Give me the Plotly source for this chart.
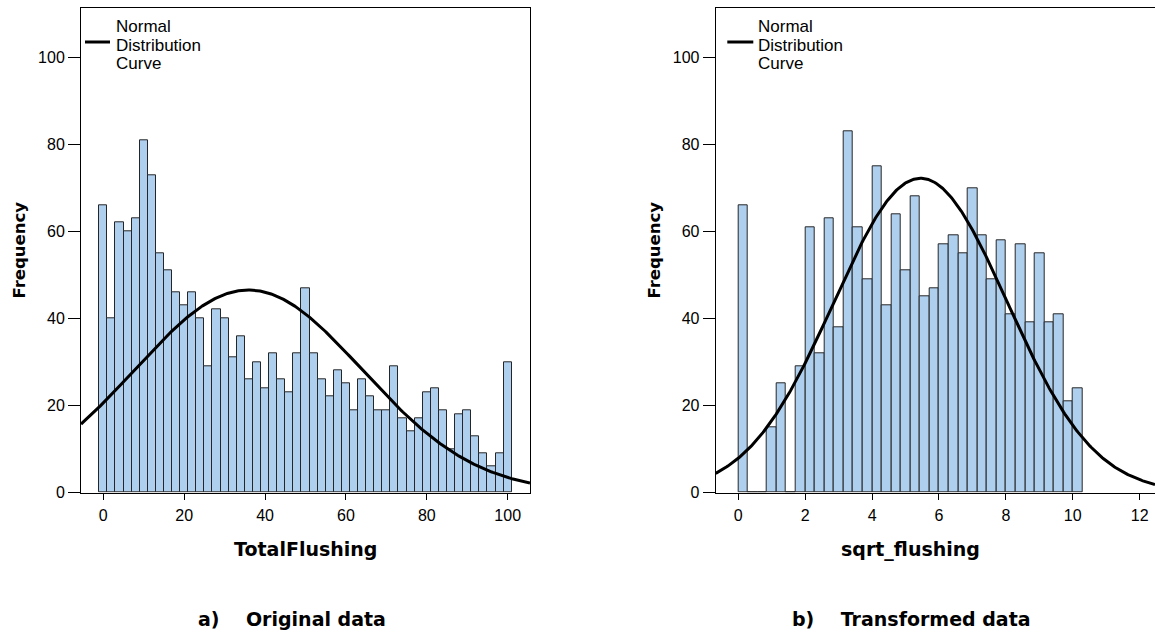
import numpy as np
import plotly.graph_objects as go

W, H = 1155, 641

# ---------------- data ----------------
orig_bin_centers = list(range(0, 101, 2))
orig_bin_width = 2
orig_counts = [66, 40, 62, 60, 63, 81, 73, 55, 51, 46,
               43, 46, 40, 29, 42, 40, 31, 36, 26, 30,
               24, 32, 26, 23, 32, 47, 32, 26, 22, 28,
               25, 19, 26, 22, 19, 19, 29, 17, 14, 17,
               23, 24, 19, 10, 18, 19, 13, 9, 6, 9,
               30]
orig_mean, orig_sd = 35.9, 28.1

sqrt_bin_width = 0.286
sqrt_counts = [66, 0, 0, 15, 25, 0, 29, 61, 32, 63,
               38, 83, 61, 49, 75, 43, 64, 51, 68, 45,
               47, 57, 59, 55, 70, 59, 49, 58, 41, 57,
               39, 55, 39, 41, 21, 24]
sqrt_bin_centers = [sqrt_bin_width * (i + 0.5) for i in range(len(sqrt_counts))]
sqrt_mean, sqrt_sd = 5.45, 2.59

x_ticks_orig = [0, 20, 40, 60, 80, 100]
x_ticks_sqrt = [0, 2, 4, 6, 8, 10, 12]
y_ticks = [0, 20, 40, 60, 80, 100]

x_range_orig = [-5.51, 105.52]
x_range_sqrt = [-0.676, 12.46]
y_range = [0, 111.26]

BAR_FILL = "#aecfee"
BAR_LINE = "#262626"


def px(x):
    return x / W


def py(y):
    return 1 - y / H


def normal_curve(mean, sd, n, bw, xr):
    xs = np.linspace(xr[0], xr[1], 400)
    ys = n * bw / (sd * np.sqrt(2 * np.pi)) * np.exp(-0.5 * ((xs - mean) / sd) ** 2)
    return xs, ys


fig = go.Figure()

fig.add_trace(go.Bar(x=orig_bin_centers, y=orig_counts, width=orig_bin_width,
                     marker=dict(color=BAR_FILL, line=dict(color=BAR_LINE, width=1)),
                     xaxis="x", yaxis="y", showlegend=False))
cx, cy = normal_curve(orig_mean, orig_sd, sum(orig_counts), orig_bin_width, x_range_orig)
fig.add_trace(go.Scatter(x=cx, y=cy, mode="lines", line=dict(color="black", width=3),
                         xaxis="x", yaxis="y", showlegend=False))

fig.add_trace(go.Bar(x=sqrt_bin_centers, y=sqrt_counts, width=sqrt_bin_width,
                     marker=dict(color=BAR_FILL, line=dict(color=BAR_LINE, width=1)),
                     xaxis="x2", yaxis="y2", showlegend=False))
sx, sy = normal_curve(sqrt_mean, sqrt_sd, sum(sqrt_counts), sqrt_bin_width, x_range_sqrt)
fig.add_trace(go.Scatter(x=sx, y=sy, mode="lines", line=dict(color="black", width=3),
                         xaxis="x2", yaxis="y2", showlegend=False))

tickfont = dict(family="Liberation Sans, Arial, sans-serif", size=16, color="black")
common_x = dict(showline=True, linecolor="black", linewidth=1, mirror=True,
                ticks="outside", ticklen=6, tickcolor="black", tickwidth=1,
                showgrid=False, zeroline=False, tickfont=tickfont, ticklabelstandoff=2,
                automargin=False)
common_y = dict(showline=True, linecolor="black", linewidth=1,
                ticks="outside", ticklen=12, tickcolor="black", tickwidth=1,
                showgrid=False, zeroline=False, tickfont=tickfont, range=y_range,
                tickvals=y_ticks, ticklabelstandoff=0, automargin=False)

ydom = [py(492.5), py(8.3)]
fig.update_layout(
    width=W, height=H, margin=dict(l=0, r=0, t=0, b=0, pad=0, autoexpand=False),
    paper_bgcolor="white", plot_bgcolor="white",
    bargap=0, showlegend=False,
    xaxis=dict(domain=[px(81), px(530)], range=x_range_orig, tickvals=x_ticks_orig,
               anchor="y", **common_x),
    yaxis=dict(domain=ydom, anchor="x", mirror=True, **common_y),
    xaxis2=dict(domain=[px(715.7), 1.0], range=x_range_sqrt, tickvals=x_ticks_sqrt,
                anchor="y2", **common_x),
    yaxis2=dict(domain=ydom, anchor="x2", mirror=False, **common_y),
)

bold = dict(family="DejaVu Sans, Verdana, sans-serif", size=19, color="black")
freq_font = dict(family="DejaVu Sans, Verdana, sans-serif", size=16.5, color="black")
ann = []
# axis titles
ann.append(dict(text="<b>TotalFlushing</b>", x=px(305), y=py(549), font=bold))
ann.append(dict(text="<b>sqrt_flushing</b>", x=px(910), y=py(549), font=bold))
ann.append(dict(text="<b>Frequency</b>", x=px(18.5), y=py(250), textangle=-90, font=freq_font))
ann.append(dict(text="<b>Frequency</b>", x=px(653.5), y=py(250), textangle=-90, font=freq_font))
# panel captions
nb = "\u00a0"
ann.append(dict(text=f"<b>a){nb*4}Original data</b>", x=px(291.7), y=py(619), font=bold))
ann.append(dict(text=f"<b>b){nb*4}Transformed data</b>", x=px(911), y=py(619), font=bold))

legend_font = dict(family="Liberation Sans, Arial, sans-serif", size=17, color="black")
for x0 in (114, 756.3):
    for txt, yc in (("Normal", 26.5), ("Distribution", 45), ("Curve", 63.5)):
        ann.append(dict(text=txt, x=px(x0), y=py(yc), xanchor="left", font=legend_font))

for a in ann:
    a.setdefault("xanchor", "center")
    a.update(xref="paper", yref="paper", yanchor="middle", showarrow=False)
fig.update_layout(annotations=ann)

shapes = []
for x0, x1 in ((85, 110), (727.3, 753.3)):
    shapes.append(dict(type="line", xref="paper", yref="paper",
                       x0=px(x0), x1=px(x1), y0=py(42), y1=py(42),
                       line=dict(color="black", width=3)))
fig.update_layout(shapes=shapes)

fig.write_html("out.html",
               config={"displayModeBar": False},
               post_script="document.body.style.margin='0px';"
                           "document.body.style.overflow='hidden';")
